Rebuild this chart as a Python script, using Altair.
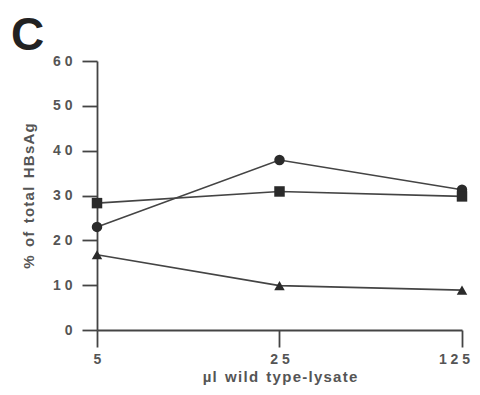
import altair as alt
import pandas as pd

doses = [5, 25, 125]
circle_vals = [23.0, 37.9, 31.3]
square_vals = [28.3, 30.9, 29.8]
triangle_vals = [16.8, 9.9, 8.9]
y_ticks = [0, 10, 20, 30, 40, 50, 60]
panel_letter = ["C"]
x_title = "µl wild type-lysate"
y_title = "% of total HBsAg"

rows = []
for name, vals in [("circle", circle_vals), ("square", square_vals), ("triangle", triangle_vals)]:
    for d, v in zip(doses, vals):
        rows.append({"dose": d, "pct": v, "series": name})
df = pd.DataFrame(rows)


def spread(s):
    # imitate the wide letter spacing of the original typesetting
    words = s.split(" ")
    return "\u00a0\u00a0".join("\u200a".join(w) for w in words)


grey = "#444444"
font = "Liberation Sans"
spaced = "join(split(datum.label, ''), ' ')"

x = alt.X("dose:Q", scale=alt.Scale(type="log", domain=[5, 125], nice=False),
          axis=alt.Axis(values=doses, title=spread(x_title), labelExpr=spaced,
                        tickSize=17, labelPadding=5, titlePadding=3, grid=False,
                        labelFlush=False,
                        labelOffset={"condition": {"test": "datum.value >= 125", "value": -8},
                                     "value": 0}))
y = alt.Y("pct:Q", scale=alt.Scale(domain=[0, 60], nice=False),
          axis=alt.Axis(values=y_ticks, title=spread(y_title), labelExpr=spaced,
                        tickSize=15, labelPadding=10, titlePadding=16, grid=False))

base = alt.Chart(df)
lines = base.mark_line(color=grey, strokeWidth=1.6).encode(x=x, y=y, detail="series:N")
points = base.mark_point(filled=True, color="#2a2a2a", opacity=1, size=110).encode(
    x=x, y=y,
    shape=alt.Shape("series:N", scale=alt.Scale(domain=["circle", "square", "triangle"],
                                                 range=["circle", "square", "triangle-up"]),
                    legend=None))
letter = alt.Chart(pd.DataFrame({"t": panel_letter})).mark_text(
    font=font, fontSize=46, fontWeight="bold", color="#222222", align="left",
    baseline="alphabetic").encode(text="t:N", x=alt.value(-86), y=alt.value(-11))

chart = alt.layer(lines, points, letter).properties(
    width=365, height=269,
    autosize=alt.AutoSizeParams(type="none"),
    padding={"left": 89, "top": 53, "right": 10, "bottom": 57},
).configure_view(stroke=None).configure_axis(
    domainColor=grey, tickColor=grey, domainWidth=1.8, tickWidth=1.8,
    labelFont=font, titleFont=font, labelFontSize=14, titleFontSize=15,
    labelColor="#555555", titleColor="#555555", labelFontWeight="bold",
    titleFontWeight="bold",
)

chart.save("out.html", embed_options={"renderer": "svg", "actions": False})
